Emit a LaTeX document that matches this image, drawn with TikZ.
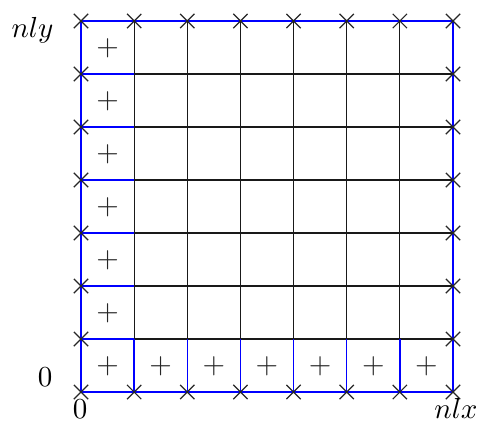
\documentclass[tikz,border=0pt]{standalone}
\usetikzlibrary{shapes.misc}
\begin{document}
\begin{tikzpicture}[x=0.345pt,y=-0.345pt,
  gridline/.style={line width=0.42pt,black!90},
  blueline/.style={line width=0.45pt,blue},
  xmark/.style={cross out,draw=black!85,line width=0.42pt,minimum size=4.5pt,inner sep=0pt},
  plusmark/.style={inner sep=0pt,text=black!85},
  axislabel/.style={inner sep=0pt,anchor=base}]
\useasboundingbox (0,0) rectangle (480,420);
% grid points
\foreach \i in {0,...,7}{
  \foreach \j in {0,...,7}{
    \pgfmathsetmacro{\px}{81+53.142857*\i}
    \pgfmathsetmacro{\py}{21+53*\j}
    \coordinate (p-\i-\j) at (\px,\py);
  }
}
% black grid lines
\foreach \k in {1,...,6}{
  \draw[gridline] (p-\k-0) -- (p-\k-7);
  \draw[gridline] (p-0-\k) -- (p-7-\k);
}
% blue lines
\draw[blueline] (p-0-0) rectangle (p-7-7);
\foreach \k in {1,...,6}{
  \draw[blueline] (p-0-\k) -- (p-1-\k);
  \draw[blueline] (p-\k-6) -- (p-\k-7);
}
% plus marks
\foreach \j in {0,...,6}{
  \pgfmathsetmacro{\cy}{21+26.5+53*\j+1}
  \node[plusmark] (plus-0-\j) at (107.57,\cy) {$+$};
}
\foreach \i in {1,...,6}{
  \pgfmathsetmacro{\cx}{81+26.57+53.142857*\i}
  \node[plusmark] (plus-\i-6) at (\cx,366.5) {$+$};
}
% crosses
\foreach \i in {0,...,7}{
  \node[xmark] (mt-\i) at (p-\i-0) {};
  \node[xmark] (mb-\i) at (p-\i-7) {};
}
\foreach \j in {1,...,6}{
  \node[xmark] (ml-\j) at (p-0-\j) {};
  \node[xmark] (mr-\j) at (p-7-\j) {};
}
% labels
\node[axislabel] (nly) at (32.5,37) {$nly$};
\node[axislabel] (zy) at (45,386) {$0$};
\node[axislabel] (zx) at (80,418) {$0$};
\node[axislabel] (nlx) at (456,418) {$nlx$};
\end{tikzpicture}
\end{document}
